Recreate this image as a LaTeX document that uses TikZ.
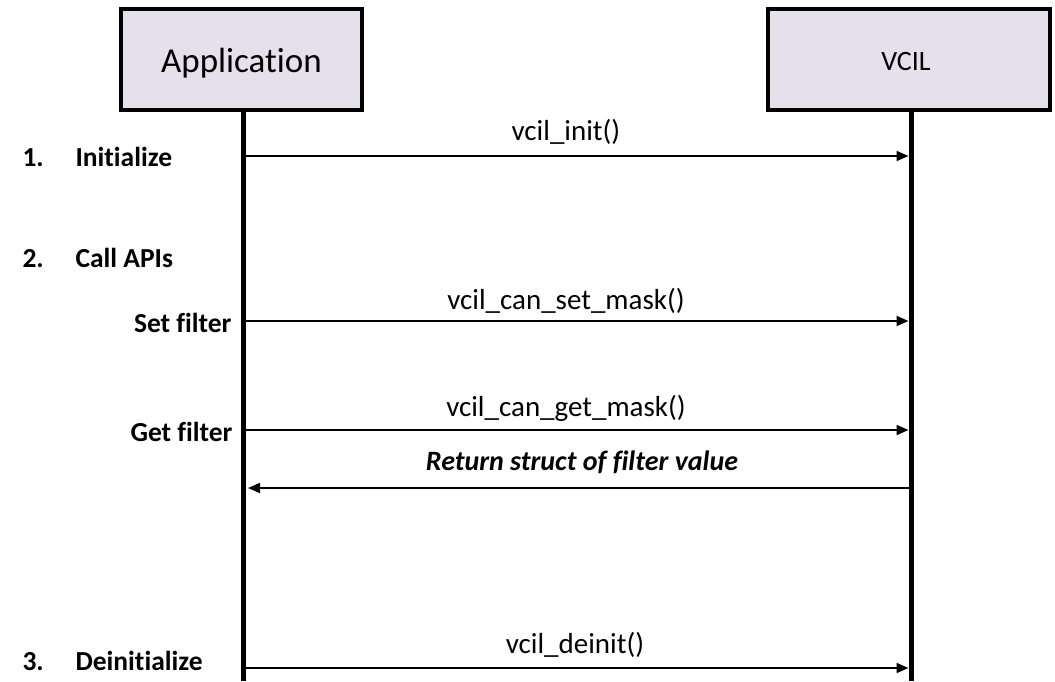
\documentclass[tikz,border=0pt]{standalone}
\usepackage{fontspec}
\setmainfont[Ligatures=NoCommon]{Carlito}
\usetikzlibrary{arrows.meta}
\definecolor{boxfill}{HTML}{E6E0EC}
\begin{document}
\begin{tikzpicture}[x=1pt,y=-1pt,
  actor/.style={draw=black,line width=4pt,fill=boxfill,minimum width=#1,minimum height=101pt,inner sep=0pt},
  lifeline/.style={line width=5pt},
  msg/.style={line width=1.8pt,-{Triangle[length=12pt,width=10pt]}},
  msglabel/.style={font=\fontsize{29}{32}\selectfont,anchor=base},
  steplabel/.style={font=\fontsize{27.5}{30}\selectfont\bfseries,anchor=base west},
  sublabel/.style={font=\fontsize{27.5}{30}\selectfont\bfseries,anchor=base east}]
\useasboundingbox (0,0) rectangle (1055,681);
% actors
\node[actor=241pt] (app) at (241.5,59.5) {};
\node[font=\fontsize{35}{40}\selectfont] (appt) at (241.5,63) {Application};
\node[actor=282pt] (vcil) at (909,59.5) {};
\node[font=\fontsize{28}{30}\selectfont] (vcilt) at (906,62) {VCIL};
% lifelines
\coordinate (append) at (243,681);
\coordinate (vcilend) at (911,681);
\draw[lifeline] (app.south -| append) -- (append);
\draw[lifeline] (vcil.south -| vcilend) -- (vcilend);
% message endpoints
\coordinate (a1) at (245.5,156); \coordinate (v1) at (908.5,156);
\coordinate (a2) at (245.5,321); \coordinate (v2) at (908.5,321);
\coordinate (a3) at (245.5,430); \coordinate (v3) at (908.5,430);
\coordinate (v4) at (913,488);   \coordinate (a4) at (248,488);
\coordinate (a5) at (245.5,668); \coordinate (v5) at (908.5,668);
% messages
\draw[msg] (a1) -- (v1);
\draw[msg] (a2) -- (v2);
\draw[msg] (a3) -- (v3);
\draw[msg] (v4) -- (a4);
\draw[msg] (a5) -- (v5);
% message labels
\node[msglabel] (m1) at (566,140) {vcil\_init()};
\node[msglabel] (m2) at (566,309) {vcil\_can\_set\_mask()};
\node[msglabel] (m3) at (566,416) {vcil\_can\_get\_mask()};
\node[msglabel,font=\fontsize{28}{30}\selectfont\bfseries\itshape] (m4) at (582,470) {Return struct of filter value};
\node[msglabel] (m5) at (575,653) {vcil\_deinit()};
% left labels
\node[steplabel] (n1) at (19,166) {1.};
\node[steplabel] (s1) at (72,166) {Initialize};
\node[steplabel] (n2) at (19,267) {2.};
\node[steplabel] (s2) at (72,267) {Call APIs};
\node[sublabel] (s2a) at (235,332) {Set filter};
\node[sublabel] (s2b) at (236,441) {Get filter};
\node[steplabel] (n3) at (19,670) {3.};
\node[steplabel] (s3) at (72,670) {Deinitialize};
\end{tikzpicture}
\end{document}
